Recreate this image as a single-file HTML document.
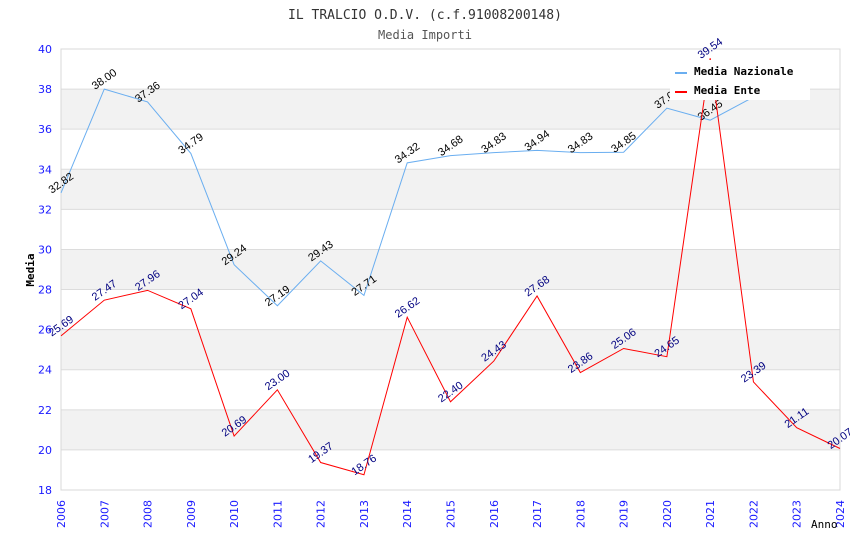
<!DOCTYPE html>
<html><head><meta charset="utf-8"><style>
html,body{margin:0;padding:0;background:#fff;}
svg{display:block;}
</style></head><body>
<svg id="chart" width="850" height="550" xmlns="http://www.w3.org/2000/svg">
<text x="425" y="19" text-anchor="middle" font-family="DejaVu Sans Mono, monospace" font-size="13" fill="#333">IL TRALCIO O.D.V. (c.f.91008200148)</text>
<text x="425" y="39" text-anchor="middle" font-family="DejaVu Sans Mono, monospace" font-size="12" fill="#555">Media Importi</text>
<g id="bands"></g>
<g id="grid"></g>
<rect x="61" y="49" width="779" height="441" fill="none" stroke="#d8d8d8"/>
<g id="yticks"></g>
<g id="xticks"></g>
<text transform="translate(34,270) rotate(-90)" text-anchor="middle" font-family="DejaVu Sans Mono, monospace" font-size="11" font-weight="bold" fill="#000">Media</text>
<text x="811" y="528" font-family="DejaVu Sans Mono, monospace" font-size="11" fill="#000">Anno</text>
<g id="series"></g>
<g>
<rect x="670" y="60" width="140" height="40" fill="#fff"/>
<line x1="675" y1="73" x2="687" y2="73" stroke="#6aaef0" stroke-width="2"/>
<text x="694" y="75" font-family="DejaVu Sans Mono, monospace" font-size="11" font-weight="bold" fill="#000">Media Nazionale</text>
<line x1="675" y1="92" x2="687" y2="92" stroke="#ff0000" stroke-width="2"/>
<text x="694" y="94" font-family="DejaVu Sans Mono, monospace" font-size="11" font-weight="bold" fill="#000">Media Ente</text>
</g>
</svg>
<script>
const years = [2006,2007,2008,2009,2010,2011,2012,2013,2014,2015,2016,2017,2018,2019,2020,2021,2022,2023,2024];
const nazionale = [32.82,38.00,37.36,34.79,29.24,27.19,29.43,27.71,34.32,34.68,34.83,34.94,34.83,34.85,37.05,36.45,37.60,null,null];
const ente = [25.69,27.47,27.96,27.04,20.69,23.00,19.37,18.76,26.62,22.40,24.43,27.68,23.86,25.06,24.65,39.54,23.39,21.11,20.07];
const yTicks = [18,20,22,24,26,28,30,32,34,36,38,40];
const NS='http://www.w3.org/2000/svg';
const L=61,R=840,T=49,B=490,yMin=18,yMax=40;
const xs=i=>L+(R-L)*i/(years.length-1);
const ys=v=>B-(v-yMin)/(yMax-yMin)*(B-T);
function mk(tag,attrs,parent){const e=document.createElementNS(NS,tag);for(const k in attrs)e.setAttribute(k,attrs[k]);document.getElementById(parent).appendChild(e);return e;}
for(let i=0;i<yTicks.length-1;i++){
  if(i%2===1){const r=mk('rect',{x:L,y:ys(yTicks[i+1]),width:R-L,height:ys(yTicks[i])-ys(yTicks[i+1]),fill:'#f2f2f2'},'bands');
  
  }
}
yTicks.forEach(v=>{
  const g=mk('line',{x1:L,x2:R,y1:ys(v),y2:ys(v),stroke:'#dcdcdc'},'grid');
  
  
  const t=mk('text',{x:L-9,y:ys(v)+4,'text-anchor':'end','font-family':'DejaVu Sans, sans-serif','font-size':'11',fill:'#1a1aff'},'yticks');
  t.textContent=v;
  
  
});
years.forEach((y,i)=>{
  const t=mk('text',{transform:`translate(${xs(i)+4},${B+10}) rotate(-90)`,'text-anchor':'end','font-family':'DejaVu Sans, sans-serif','font-size':'11',fill:'#1a1aff'},'xticks');
  t.textContent=y;
  
  
});
function drawSeries(vals,color,labelColor,name){
  const pts=[];vals.forEach((v,i)=>{if(v!==null)pts.push(xs(i)+','+ys(v));});
  const p=mk('polyline',{points:pts.join(' '),fill:'none',stroke:color,'stroke-width':'1'},'series');
  
  
  vals.forEach((v,i)=>{if(v===null)return;
    const t=mk('text',{transform:`translate(${xs(i)+2},${ys(v)-7}) rotate(-35)`,'text-anchor':'middle','font-family':'Liberation Sans, sans-serif','font-size':'11',fill:labelColor},'series');
    t.textContent=v.toFixed(2);
    
    
  });
}
drawSeries(nazionale,'#6aaef0','#000','nazionale');
drawSeries(ente,'#ff0000','#000080','ente');
</script>
</body></html>
